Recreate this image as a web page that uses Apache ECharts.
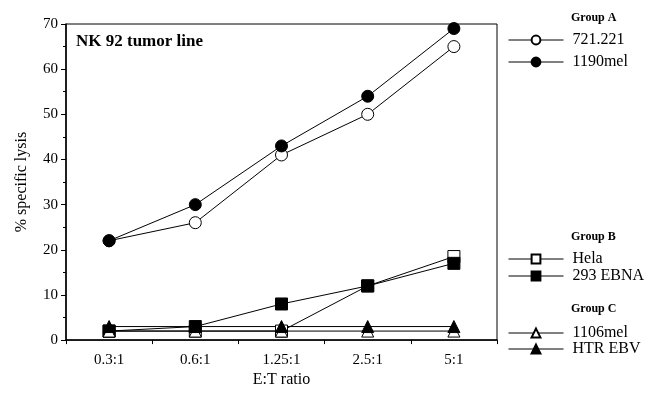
<!DOCTYPE html>
<html>
<head>
<meta charset="utf-8">
<script src="https://cdn.jsdelivr.net/npm/echarts@6/dist/echarts.min.js"></script>
<style>
  html, body { margin: 0; padding: 0; background: #fff; }
  #chart { width: 655px; height: 393px; }
</style>
</head>
<body>
<div id="chart"></div>
<script>
// E:T ratios on the x axis
var ratios = ['0.3:1', '0.6:1', '1.25:1', '2.5:1', '5:1'];

// % specific lysis per tumor line
var cell721 = [22, 26, 41, 50, 65];
var mel1190 = [22, 30, 43, 54, 69];
var hela = [2, 2, 2, 12, 18.5];
var ebna293 = [2, 3, 8, 12, 17];
var mel1106 = [2, 2, 2, 2, 2];
var htrEbv = [3, 3, 3, 3, 3];

var serif = '"Liberation Serif", "Times New Roman", serif';

function mkSeries(name, data, symbol, filled) {
  return {
    name: name,
    type: 'line',
    data: data,
    symbol: symbol,
    symbolSize: 12,
    showAllSymbol: true,
    lineStyle: { color: '#000', width: 1 },
    itemStyle: {
      color: filled ? '#000' : '#fff',
      borderColor: '#000',
      borderWidth: 1
    },
    emphasis: { disabled: true }
  };
}

function mkLegend(names, top, gap) {
  return {
    orient: 'vertical',
    left: 503,
    top: top,
    data: names,
    itemWidth: 55,
    itemHeight: 11,
    itemGap: gap,
    selectedMode: false,
    lineStyle: { width: 1, color: '#000' },
    textStyle: { fontFamily: serif, fontSize: 16, color: '#000', lineHeight: 16, padding: [0, 0, 0, 4] }
  };
}

var chart = echarts.init(document.getElementById('chart'));

var option = {
  animation: false,
  backgroundColor: '#fff',
  grid: {
    left: 66, right: 158, top: 24, bottom: 50,
    show: true, borderColor: '#000', borderWidth: 1
  },
  legend: [
    mkLegend(['721.221', '1190mel'], 27, 6),
    mkLegend(['Hela', '293 EBNA'], 246, 1),
    mkLegend(['1106mel', 'HTR EBV'], 320, 0)
  ],
  graphic: [
    { type: 'text', left: 571, top: 12, style: { text: 'Group A', font: 'bold 12px ' + serif, fill: '#000' } },
    { type: 'text', left: 571, top: 231, style: { text: 'Group B', font: 'bold 12px ' + serif, fill: '#000' } },
    { type: 'text', left: 571, top: 303, style: { text: 'Group C', font: 'bold 12px ' + serif, fill: '#000' } },
    { type: 'text', left: 76, top: 33, style: { text: 'NK 92 tumor line', font: 'bold 17px ' + serif, fill: '#000' } }
  ],
  xAxis: {
    type: 'category',
    data: ratios,
    name: 'E:T ratio',
    nameLocation: 'middle',
    nameGap: 31,
    nameTextStyle: { fontFamily: serif, fontSize: 16, color: '#000' },
    axisLine: { lineStyle: { color: '#000', width: 1.5 } },
    axisTick: { show: true, length: 4, lineStyle: { color: '#000' } },
    axisLabel: { fontFamily: serif, fontSize: 15, color: '#000', margin: 12 }
  },
  yAxis: {
    type: 'value',
    min: 0,
    max: 70,
    interval: 10,
    name: '% specific lysis',
    nameLocation: 'middle',
    nameGap: 36,
    nameTextStyle: { fontFamily: serif, fontSize: 16, color: '#000' },
    axisLine: { show: true, lineStyle: { color: '#000', width: 1.5 } },
    axisTick: { show: true, length: 5, lineStyle: { color: '#000' } },
    minorTick: { show: true, splitNumber: 2, length: 3, lineStyle: { color: '#000' } },
    splitLine: { show: false },
    axisLabel: { fontFamily: serif, fontSize: 15, color: '#000', margin: 8 }
  },
  series: [
    mkSeries('721.221', cell721, 'circle', false),
    mkSeries('1190mel', mel1190, 'circle', true),
    mkSeries('Hela', hela, 'rect', false),
    mkSeries('293 EBNA', ebna293, 'rect', true),
    mkSeries('1106mel', mel1106, 'triangle', false),
    mkSeries('HTR EBV', htrEbv, 'triangle', true)
  ]
};

chart.setOption(option);
</script>
</body>
</html>
